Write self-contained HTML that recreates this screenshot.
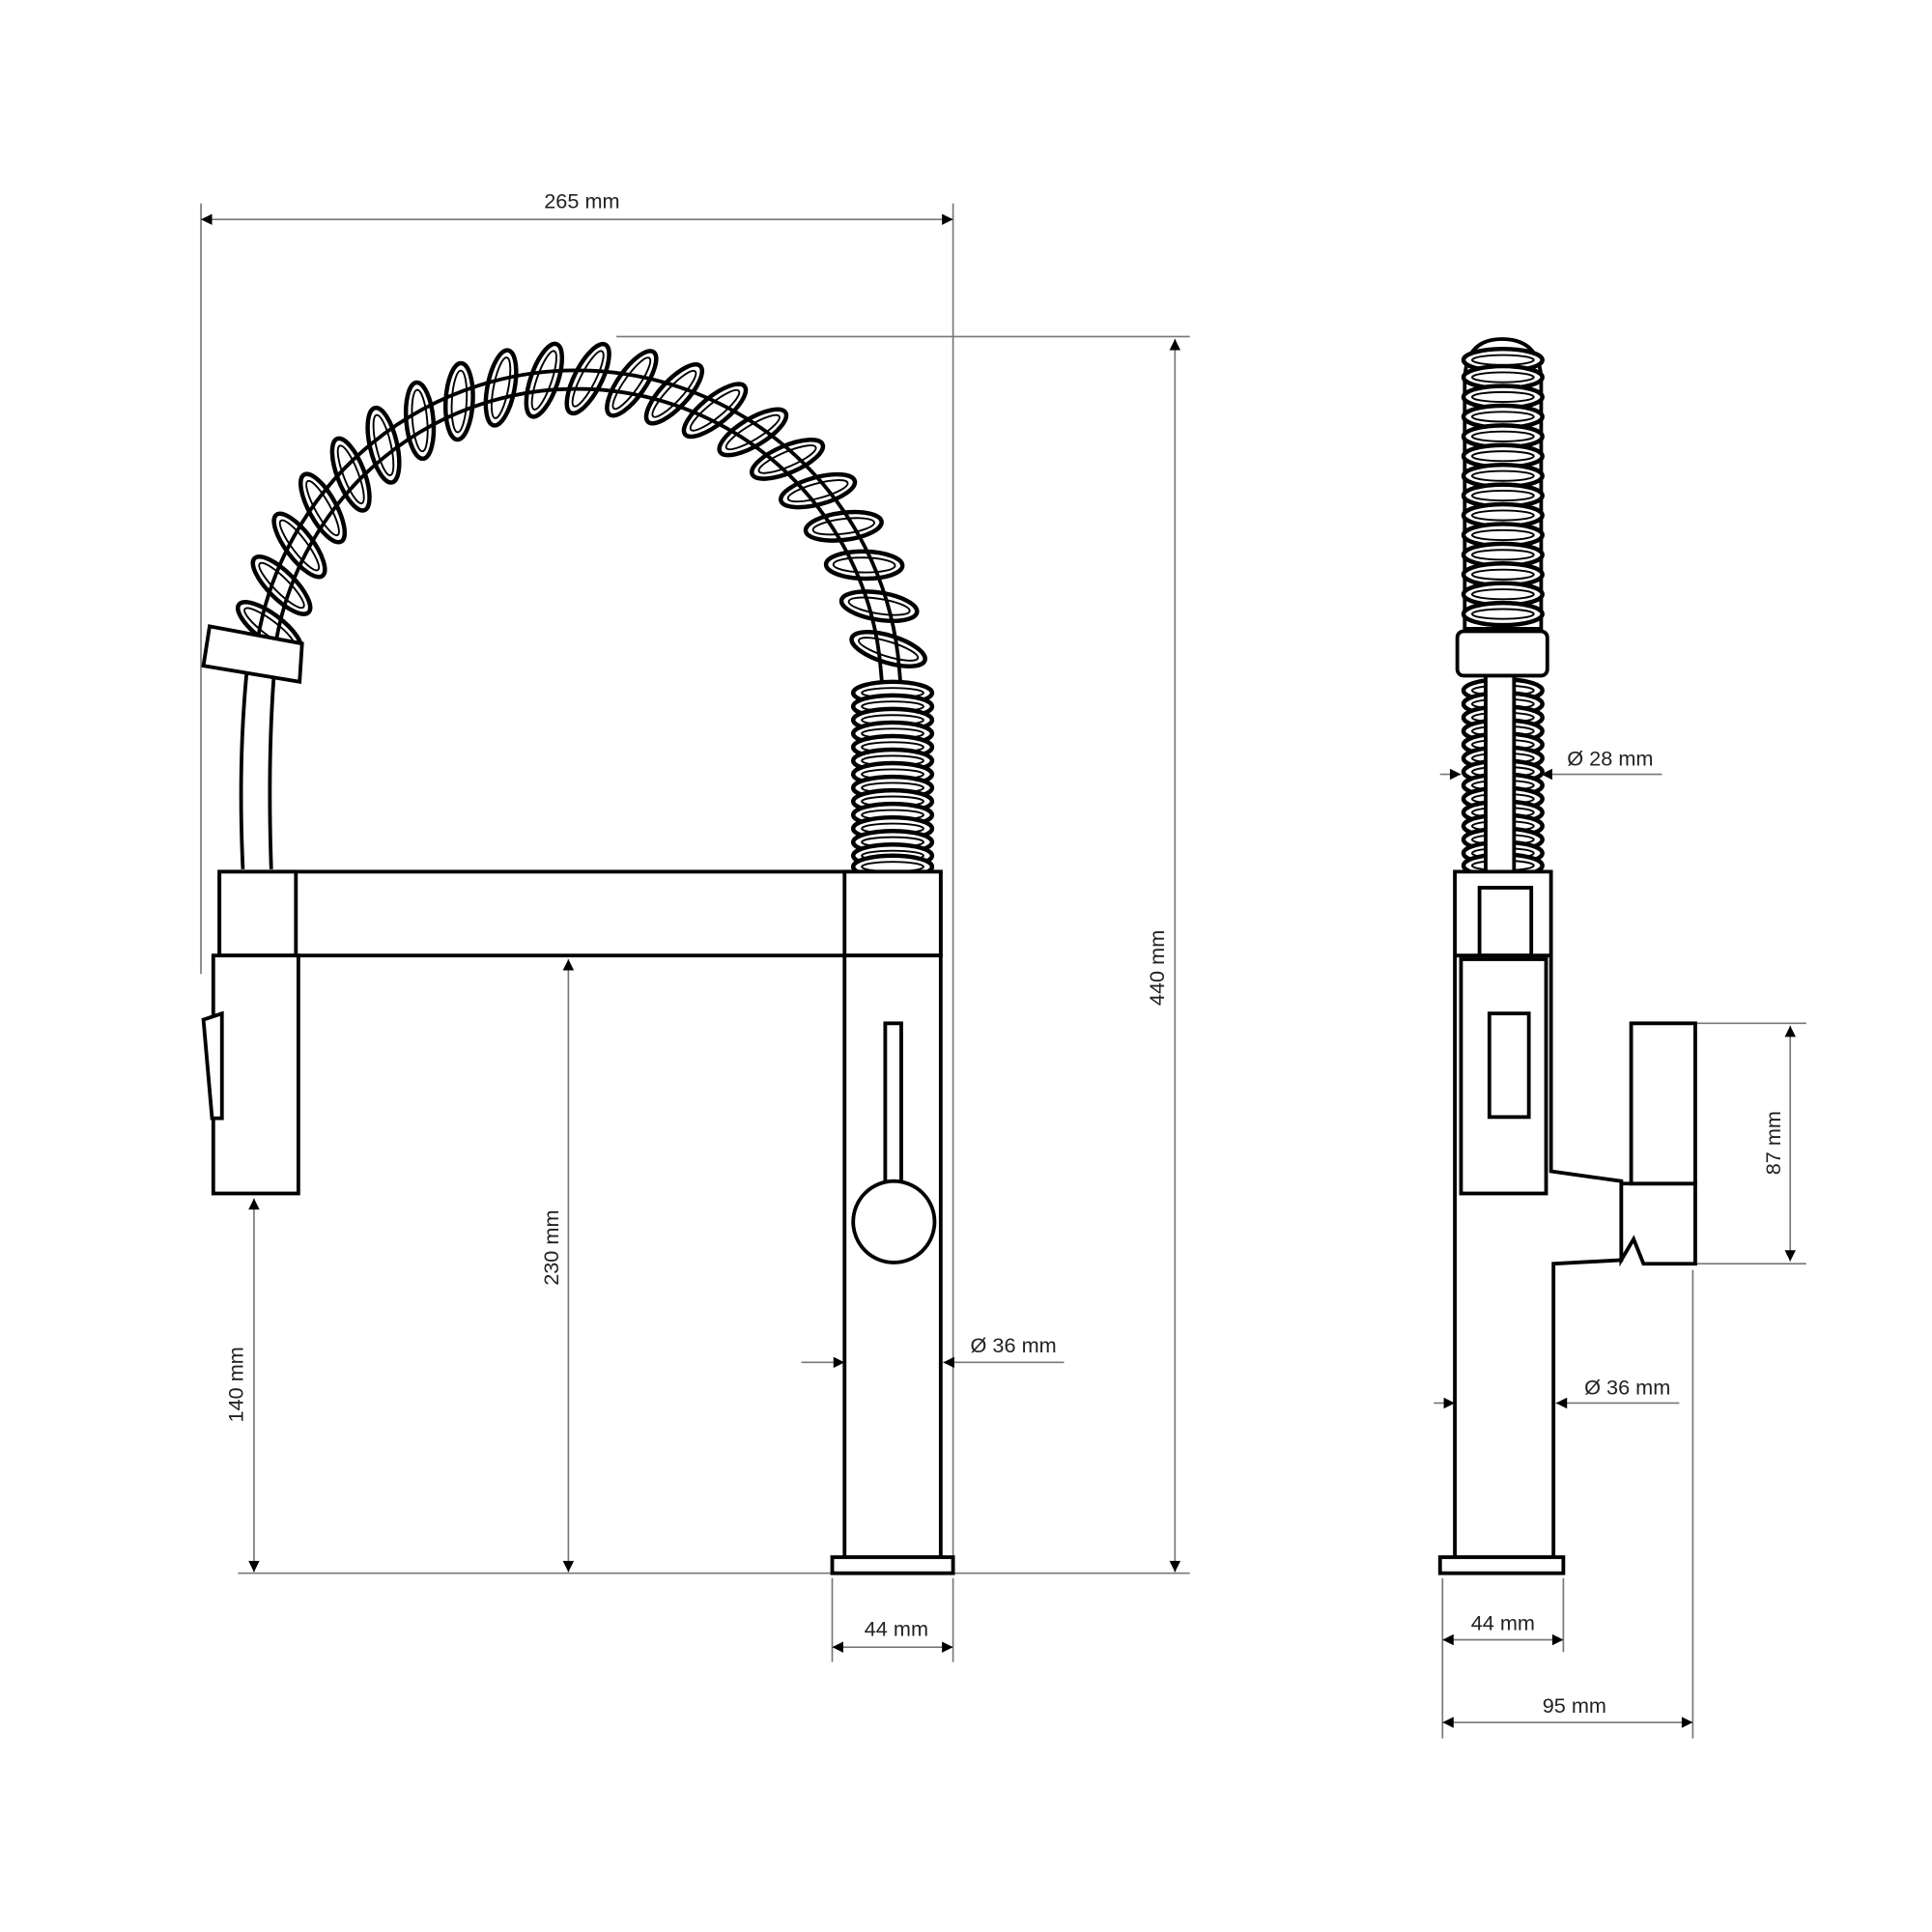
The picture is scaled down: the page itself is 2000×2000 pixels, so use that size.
<!DOCTYPE html>
<html><head><meta charset="utf-8"><style>html,body{margin:0;padding:0;background:#fff}svg{display:block}</style></head>
<body>
<svg width="2000" height="2000" viewBox="0 0 1567 1567" xmlns="http://www.w3.org/2000/svg" font-family="Liberation Sans, sans-serif" font-size="17">
<defs>
<marker id="a" viewBox="0 0 10 10" refX="10" refY="5" markerWidth="14" markerHeight="9" markerUnits="userSpaceOnUse" orient="auto-start-reverse"><path d="M0,0L10,5L0,10z" fill="#000"/></marker>
<g id="coil"><ellipse cx="468" cy="307" rx="11" ry="31" fill="none" stroke="#000" stroke-width="3.5" transform="rotate(25 468 307)"/><ellipse cx="468" cy="307" rx="6" ry="25" fill="none" stroke="#000" stroke-width="1.5" transform="rotate(25 468 307)"/></g>
<g id="vc"><ellipse cx="0" cy="0" rx="32" ry="9" fill="#fff" stroke="#000" stroke-width="3.5"/><ellipse cx="0" cy="0" rx="25" ry="4" fill="none" stroke="#000" stroke-width="1.5"/></g>
</defs>
<g stroke="#777" stroke-width="1.3" fill="none">
<line x1="163" y1="165" x2="163" y2="790"/><line x1="773" y1="165" x2="773" y2="1265"/>
<line x1="163" y1="178" x2="773" y2="178" marker-start="url(#a)" marker-end="url(#a)"/>
<line x1="500" y1="273" x2="965" y2="273"/><line x1="193" y1="1276" x2="965" y2="1276"/>
<line x1="953" y1="275" x2="953" y2="1275" marker-start="url(#a)" marker-end="url(#a)"/>
<line x1="461" y1="778" x2="461" y2="1275" marker-start="url(#a)" marker-end="url(#a)"/>
<line x1="206" y1="972" x2="206" y2="1275" marker-start="url(#a)" marker-end="url(#a)"/>
<line x1="650" y1="1105" x2="685" y2="1105" marker-end="url(#a)"/><line x1="863" y1="1105" x2="765" y2="1105" marker-end="url(#a)"/>
<line x1="675" y1="1280" x2="675" y2="1348"/><line x1="773" y1="1280" x2="773" y2="1348"/>
<line x1="675" y1="1336" x2="773" y2="1336" marker-start="url(#a)" marker-end="url(#a)"/>
<line x1="1168" y1="628" x2="1185" y2="628" marker-end="url(#a)"/><line x1="1348" y1="628" x2="1250" y2="628" marker-end="url(#a)"/>
<line x1="1375" y1="830" x2="1465" y2="830"/><line x1="1375" y1="1025" x2="1465" y2="1025"/>
<line x1="1452" y1="832" x2="1452" y2="1023" marker-start="url(#a)" marker-end="url(#a)"/>
<line x1="1163" y1="1138" x2="1180" y2="1138" marker-end="url(#a)"/><line x1="1362" y1="1138" x2="1262" y2="1138" marker-end="url(#a)"/>
<line x1="1170" y1="1280" x2="1170" y2="1410"/><line x1="1268" y1="1280" x2="1268" y2="1340"/><line x1="1373" y1="1030" x2="1373" y2="1410"/>
<line x1="1170" y1="1330" x2="1268" y2="1330" marker-start="url(#a)" marker-end="url(#a)"/>
<line x1="1170" y1="1397" x2="1373" y2="1397" marker-start="url(#a)" marker-end="url(#a)"/>
</g>
<g fill="#222" text-anchor="middle">
<text x="472" y="169">265 mm</text>
<text transform="translate(944,785) rotate(-90)">440 mm</text>
<text transform="translate(453,1012) rotate(-90)">230 mm</text>
<text transform="translate(197,1123) rotate(-90)">140 mm</text>
<text x="822" y="1097">Ø 36 mm</text>
<text x="727" y="1327">44 mm</text>
<text x="1306" y="621">Ø 28 mm</text>
<text transform="translate(1444,927) rotate(-90)">87 mm</text>
<text x="1320" y="1131">Ø 36 mm</text>
<text x="1219" y="1322">44 mm</text>
<text x="1277" y="1389">95 mm</text>
</g>
<!-- arc tube -->
<path d="M216,522 A255,255 0 0 1 722,544 L723,556" fill="none" stroke="#000" stroke-width="18"/>
<path d="M216,522 A255,255 0 0 1 722,544 L723,556" fill="none" stroke="#fff" stroke-width="12"/>
<g>
<use href="#coil" transform="rotate(-78 468 562)"/><use href="#coil" transform="rotate(-70 468 562)"/>
<use href="#coil" transform="rotate(-62 468 562)"/><use href="#coil" transform="rotate(-54 468 562)"/>
<use href="#coil" transform="rotate(-46 468 562)"/><use href="#coil" transform="rotate(-38 468 562)"/>
<use href="#coil" transform="rotate(-30 468 562)"/><use href="#coil" transform="rotate(-22 468 562)"/>
<use href="#coil" transform="rotate(-14 468 562)"/><use href="#coil" transform="rotate(-6 468 562)"/>
<use href="#coil" transform="rotate(2 468 562)"/><use href="#coil" transform="rotate(10 468 562)"/>
<use href="#coil" transform="rotate(18 468 562)"/><use href="#coil" transform="rotate(26 468 562)"/>
<use href="#coil" transform="rotate(34 468 562)"/><use href="#coil" transform="rotate(42 468 562)"/>
<use href="#coil" transform="rotate(50 468 562)"/><use href="#coil" transform="rotate(58 468 562)"/>
<use href="#coil" transform="rotate(66 468 562)"/><use href="#coil" transform="rotate(74 468 562)"/>
<use href="#coil" transform="rotate(82 468 562)"/>
</g>
<!-- right vertical spring -->
<g transform="translate(724,0)">
<use href="#vc" y="562"/><use href="#vc" y="573"/><use href="#vc" y="584"/><use href="#vc" y="595"/>
<use href="#vc" y="606"/><use href="#vc" y="617"/><use href="#vc" y="628"/><use href="#vc" y="639"/>
<use href="#vc" y="650"/><use href="#vc" y="661"/><use href="#vc" y="672"/><use href="#vc" y="683"/>
<use href="#vc" y="694"/><use href="#vc" y="703"/>
</g>
<!-- left collar & hose -->
<polygon points="170,508 245,522 243,553 165,540" fill="#fff" stroke="#000" stroke-width="3"/>
<path d="M200,546 Q193,620 197,705 M222,550 Q217,620 220,705" fill="none" stroke="#000" stroke-width="3"/>
<!-- body -->
<g stroke="#000" stroke-width="3" fill="#fff">
<rect x="178" y="707" width="585" height="68"/>
<rect x="178" y="707" width="62" height="68"/>
<rect x="685" y="707" width="78" height="68"/>
<rect x="173" y="775" width="69" height="193"/>
<polygon points="165,827 180,822 180,907 172,907"/>
<rect x="685" y="775" width="78" height="488"/>
<rect x="675" y="1263" width="98" height="13"/>
<rect x="718" y="830" width="13" height="132"/>
<circle cx="725" cy="991" r="33"/>
</g>
<!-- side view -->
<g>
<path d="M1188,310 Q1188,275 1218,275 Q1250,275 1250,310 L1250,510 L1188,510 Z" fill="#fff" stroke="#000" stroke-width="3"/>
<g transform="translate(1219,0)">
<use href="#vc" y="292"/><use href="#vc" y="306"/><use href="#vc" y="322"/>
<use href="#vc" y="338"/><use href="#vc" y="354"/><use href="#vc" y="370"/>
<use href="#vc" y="386"/><use href="#vc" y="402"/><use href="#vc" y="418"/>
<use href="#vc" y="434"/><use href="#vc" y="450"/><use href="#vc" y="466"/>
<use href="#vc" y="482"/><use href="#vc" y="498"/>
<use href="#vc" y="560"/><use href="#vc" y="571"/><use href="#vc" y="582"/><use href="#vc" y="593"/>
<use href="#vc" y="604"/><use href="#vc" y="615"/><use href="#vc" y="626"/><use href="#vc" y="637"/>
<use href="#vc" y="648"/><use href="#vc" y="659"/><use href="#vc" y="670"/><use href="#vc" y="681"/>
<use href="#vc" y="692"/><use href="#vc" y="702"/>
</g>
<rect x="1205" y="540" width="23" height="180" fill="#fff" stroke="#000" stroke-width="3"/>
<rect x="1182" y="512" width="73" height="36" rx="5" fill="#fff" stroke="#000" stroke-width="3"/>
</g>
<g stroke="#000" stroke-width="3" fill="#fff">
<path d="M1180,707 H1258 V950 L1315,958 V1022 L1260,1025 V1263 H1180 Z"/>
<rect x="1200" y="720" width="42" height="55"/>
<line x1="1180" y1="775" x2="1258" y2="775"/>
<rect x="1185" y="778" width="69" height="190"/>
<rect x="1208" y="822" width="32" height="84"/>
<polygon points="1315,960 1375,960 1375,1025 1333,1025 1325,1005 1315,1022"/>
<rect x="1323" y="830" width="52" height="130"/>
<rect x="1168" y="1263" width="100" height="13"/>
</g>
</svg>
</body></html>
